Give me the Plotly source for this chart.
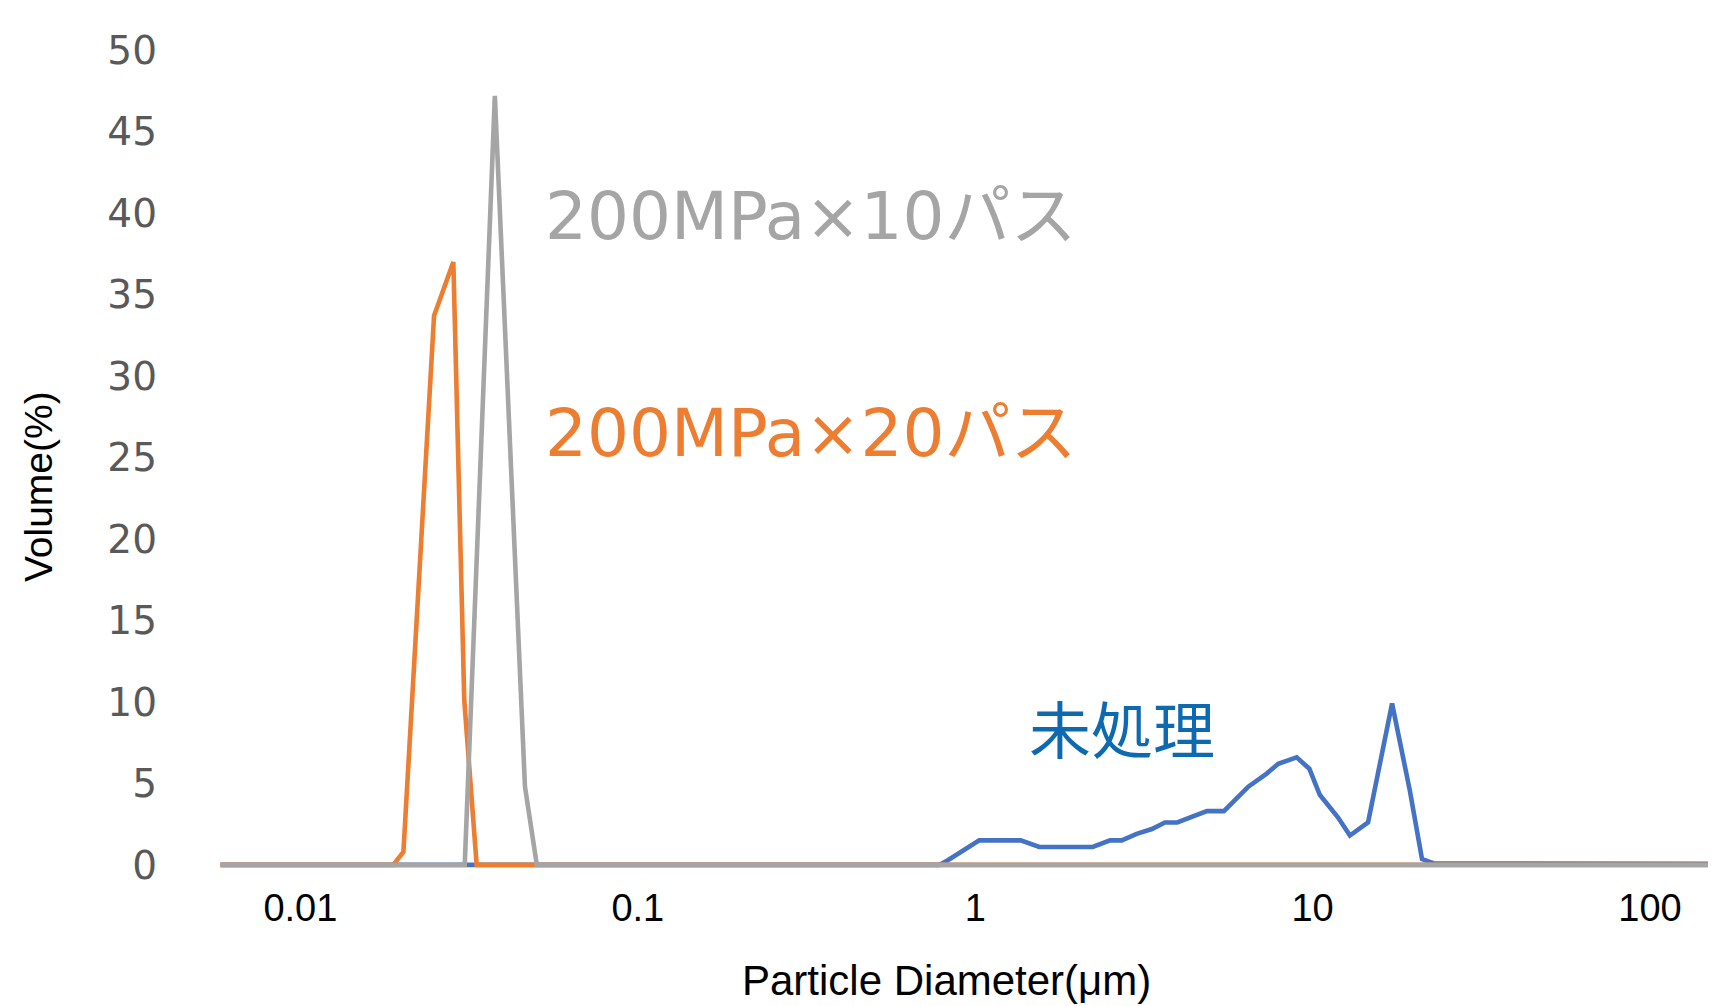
import plotly.graph_objects as go

# ---- data ----
tick_vals = [0.01, 0.1, 1, 10, 100]
tick_text = ["0.01", "0.1", "1", "10", "100"]
y_ticks = [0, 5, 10, 15, 20, 25, 30, 35, 40, 45, 50]

# 未処理 (untreated)
blue_d = [0.0058, 0.786, 0.832, 0.944, 1.028, 1.364, 1.549, 2.23, 2.51, 2.72,
          3.01, 3.34, 3.65, 3.97, 4.48, 4.86, 5.46, 6.45, 7.31, 7.91,
          8.97, 9.78, 10.5, 11.9, 12.9, 14.6, 17.2, 19.4, 21.1, 22.8, 2000]
blue_v = [0, 0, 0.3, 1.05, 1.5, 1.5, 1.1, 1.1, 1.5, 1.5,
          1.9, 2.2, 2.6, 2.6, 3.0, 3.3, 3.3, 4.8, 5.6, 6.2,
          6.6, 5.9, 4.3, 2.9, 1.8, 2.6, 9.9, 4.6, 0.35, 0.1, 0]

# 200MPa×20パス
orange_d = [0.0058, 0.01885, 0.0202, 0.0249, 0.0284, 0.0306, 0.0333, 2000]
orange_v = [0, 0, 0.8, 33.7, 37.0, 10.1, 0, 0]

# 200MPa×10パス
gray_d = [0.0058, 0.0307, 0.0377, 0.0463, 0.0502, 2000]
gray_v = [0, 0, 47.2, 4.8, 0, 0]

BLUE = "#4472C4"
ORANGE = "#ED7D31"
GRAY = "#A5A5A5"

fig = go.Figure()
for d, v, c in [(blue_d, blue_v, BLUE), (orange_d, orange_v, ORANGE), (gray_d, gray_v, GRAY)]:
    fig.add_trace(go.Scatter(x=d, y=v, mode="lines",
                             line=dict(color=c, width=4.6),
                             showlegend=False, hoverinfo="skip"))

axis_font = "Liberation Sans, Arial, sans-serif"
label_font = "DejaVu Sans, Noto Sans CJK JP, sans-serif"

fig.update_layout(
    width=1708, height=998,
    margin=dict(l=197, r=0, t=34, b=133),
    paper_bgcolor="white", plot_bgcolor="white",
    xaxis=dict(type="log", range=[-2.2827, 2.1956],
               tickvals=tick_vals, ticktext=tick_text,
               showgrid=False, zeroline=False, showline=False, ticks="",
               tickfont=dict(family=axis_font, size=38, color="#000000"),
               ticklabelstandoff=9),
    yaxis=dict(range=[-0.5, 50.5], tickvals=y_ticks,
               showgrid=False, zeroline=False, showline=False, ticks="",
               tickfont=dict(family="DejaVu Sans, sans-serif", size=39, color="#595959"),
               ticklabelstandoff=47),
    annotations=[
        dict(x=-0.4896, y=39.8, xref="x", yref="y", text="200MPa×10パス",
             showarrow=False, xanchor="center", yanchor="middle",
             font=dict(family=label_font, size=66, color=GRAY)),
        dict(x=-0.4867, y=26.5, xref="x", yref="y", text="200MPa×20パス",
             showarrow=False, xanchor="center", yanchor="middle",
             font=dict(family=label_font, size=66, color=ORANGE)),
        dict(x=0.4351, y=8.45, xref="x", yref="y", text="未処理",
             showarrow=False, xanchor="center", yanchor="middle",
             font=dict(family="Noto Sans CJK JP, sans-serif", size=62, color="#0E6AB0")),
        dict(x=-0.1105, y=0.4645, xref="paper", yref="paper", text="Volume(%)",
             textangle=-90, showarrow=False, xanchor="center", yanchor="middle",
             font=dict(family=axis_font, size=39, color="#000000")),
        dict(x=0.491, y=-0.1595, xref="paper", yref="paper", text="Particle Diameter(μm)",
             showarrow=False, xanchor="center", yanchor="bottom",
             font=dict(family=axis_font, size=42, color="#000000")),
    ],
)

fig.write_html("out.html")
